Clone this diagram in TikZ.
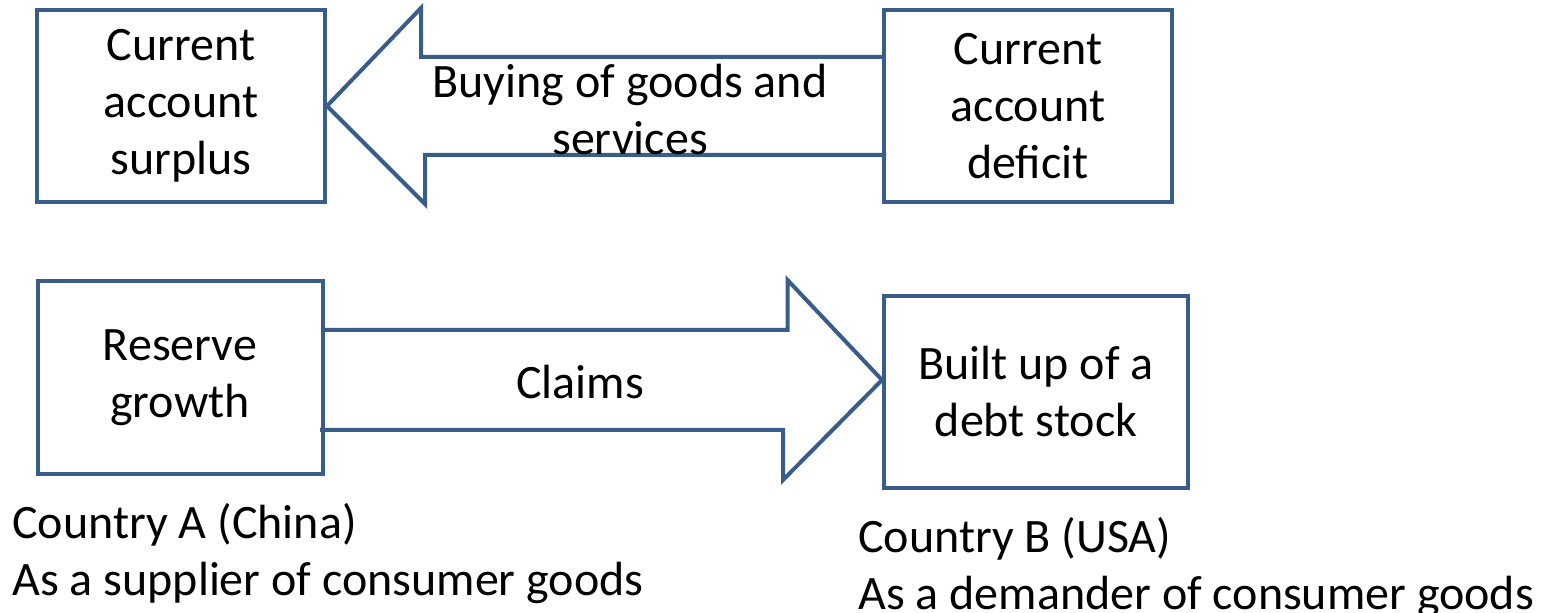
\documentclass[tikz,border=0pt]{standalone}
\usepackage{fontspec}
\setmainfont{Carlito}
\definecolor{boxblue}{RGB}{56,93,138}

\begin{document}
\begin{tikzpicture}
[x=0.5pt,y=-0.5pt,%
  box/.style={shape=rectangle,draw=boxblue,line width=2pt,inner sep=0pt,align=center},%
  flow/.style={draw=boxblue,line width=2pt},%
  txt/.style={inner sep=0pt,align=center}]
\fontsize{24pt}{28.5pt}\selectfont
\useasboundingbox (0,0) rectangle (1544,613);
% upper row
\node[box,minimum width=144pt,minimum height=96pt] (cas) at (181,106) {Current\\account\\surplus};
\node[box,minimum width=144pt,minimum height=96pt] (cad) at (1028,106) {Current\\account\\deficit};
\draw[flow] (cad.west) ++(0,-49) -- ++(-461,0) -- ++(0,-49) -- (cas.east)
  -- ++(98,98) -- ++(0,-49) -- ++(461,0);
\node[txt] (buy) at (630,110) {Buying of goods and\\services};
% lower row
\node[box,minimum width=142.5pt,minimum height=96.5pt] (rg) at (180,378) {Reserve\\growth};
\node[box,minimum width=152pt,minimum height=96pt] (bds) at (1036,392) {Built up of a\\debt stock};
\coordinate (tip) at ([yshift=6pt]bds.west);
\draw[flow] (rg.east) ++(0,-48) -- ++(463,0) -- ++(0,-50) -- (tip)
  -- ++(-99,100) -- ++(0,-50) -- ++(-463,0);
\node[txt] (claims) at (580,382) {Claims};
% countries
\node[txt,align=left,anchor=north west] (ca) at (12,503) {Country A (China)\\As a supplier of consumer goods};
\node[txt,align=left,anchor=north west] (cb) at (858,517) {Country B (USA)\\As a demander of consumer goods};
\end{tikzpicture}
\end{document}
